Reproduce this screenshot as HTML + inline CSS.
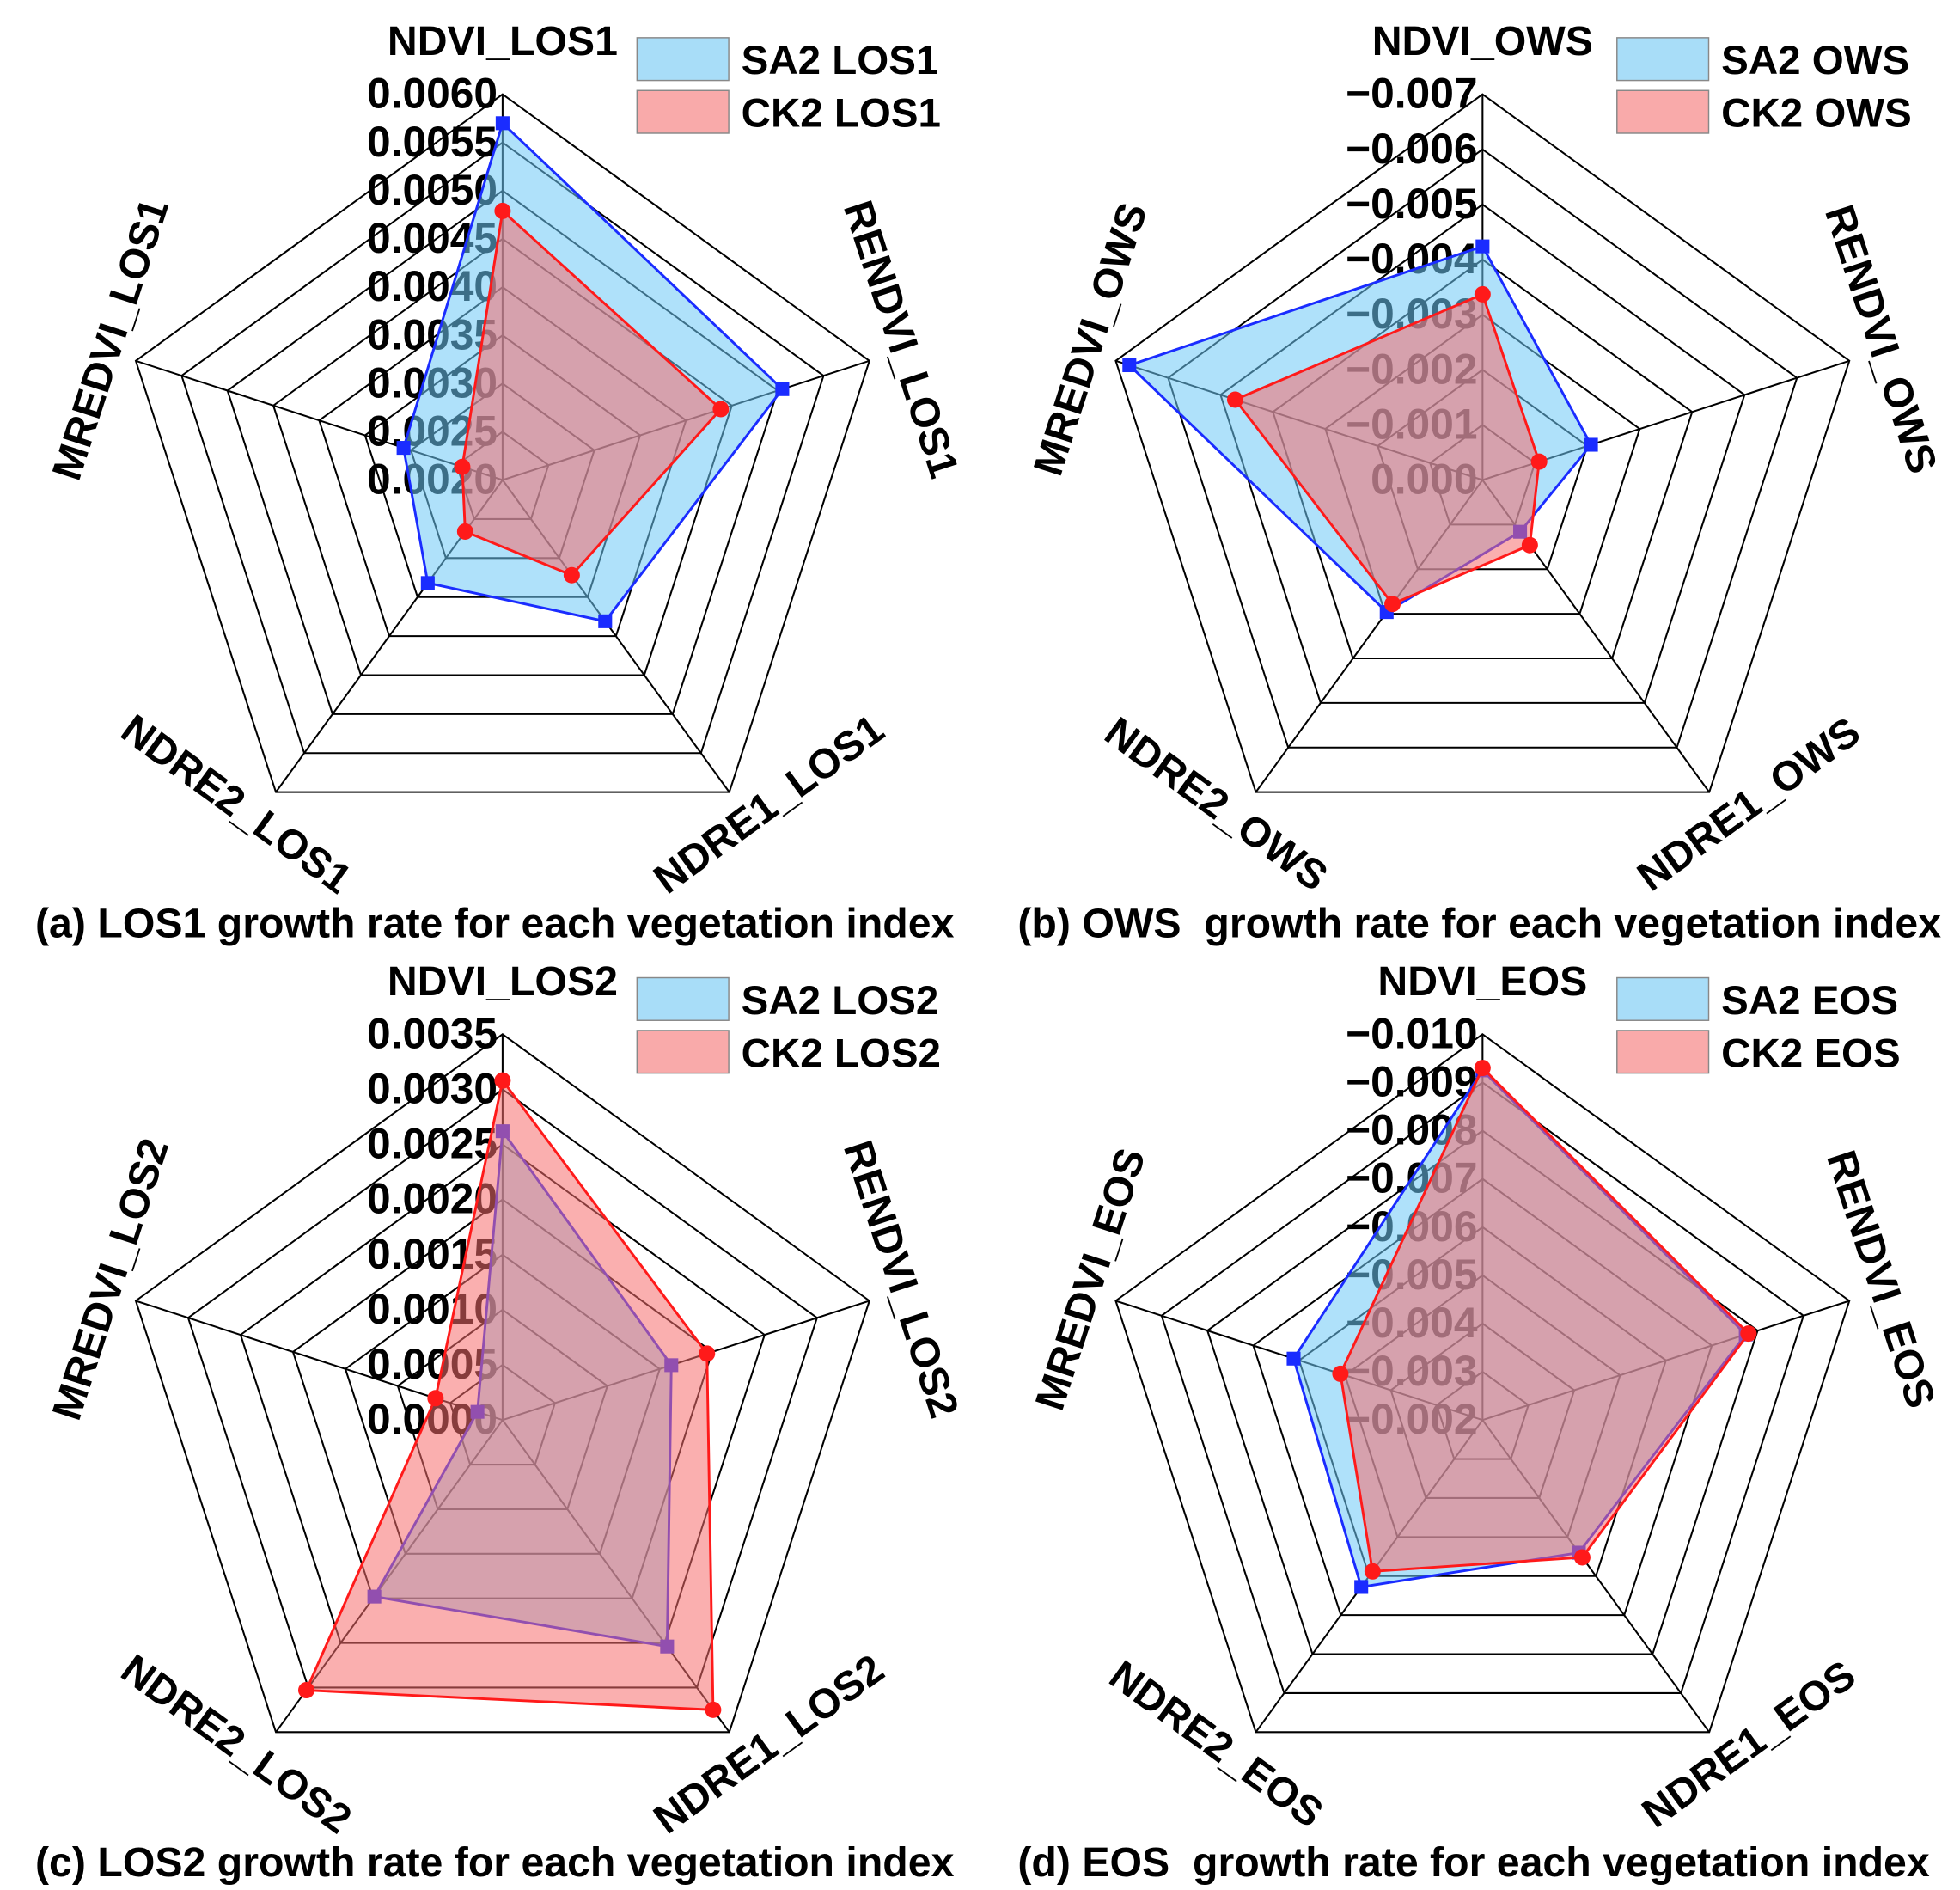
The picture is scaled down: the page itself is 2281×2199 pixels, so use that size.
<!DOCTYPE html>
<html><head><meta charset="utf-8"><style>
html,body{margin:0;padding:0;background:#fff}
svg{display:block;font-family:"Liberation Sans",Arial,sans-serif;font-weight:bold}
text{white-space:pre}
</style></head><body>
<svg id="chart" width="2281" height="2199" viewBox="0 0 1560 1504" xmlns="http://www.w3.org/2000/svg" xml:space="preserve"></svg>
<script>
const axisNames = ["NDVI","RENDVI","NDRE1","NDRE2","MREDVI"];
const suffixA = "LOS1", suffixB = "OWS", suffixC = "LOS2", suffixD = "EOS";
const ticksA = ["0.0020","0.0025","0.0030","0.0035","0.0040","0.0045","0.0050","0.0055","0.0060"];
const ticksB = ["0.000","\u22120.001","\u22120.002","\u22120.003","\u22120.004","\u22120.005","\u22120.006","\u22120.007"];
const ticksC = ["0.0000","0.0005","0.0010","0.0015","0.0020","0.0025","0.0030","0.0035"];
const ticksD = ["\u22120.002","\u22120.003","\u22120.004","\u22120.005","\u22120.006","\u22120.007","\u22120.008","\u22120.009","\u22120.010"];
const rangeA = [0.0020, 0.0060], rangeB = [0, -0.007], rangeC = [0, 0.0035], rangeD = [-0.002, -0.010];
const sa2A = [0.0057, 0.00505, 0.00381, 0.00332, 0.00308];
const ck2A = [0.00479, 0.00438, 0.00322, 0.00266, 0.00244];
const sa2B = [-0.00424, -0.00207, -0.00116, -0.00296, -0.00674];
const ck2B = [-0.00337, -0.00108, -0.00146, -0.00278, -0.00472];
const sa2C = [0.00262, 0.00161, 0.00254, 0.00198, 0.00024];
const ck2C = [0.00308, 0.00195, 0.00325, 0.00303, 0.00064];
const sa2D = [-0.00925, -0.00774, -0.0054, -0.00628, -0.00612];
const ck2D = [-0.0093, -0.0078, -0.00552, -0.00588, -0.0051];
const captionA = "(a) LOS1 growth rate for each vegetation index";
const captionB = "(b) OWS  growth rate for each vegetation index";
const captionC = "(c) LOS2 growth rate for each vegetation index";
const captionD = "(d) EOS  growth rate for each vegetation index";

const NS = "http://www.w3.org/2000/svg";
const svg = document.getElementById("chart");
const R = 307;
function mk(tag, attrs, parent){const e=document.createElementNS(NS,tag);for(const k in attrs)e.setAttribute(k,attrs[k]);(parent||svg).appendChild(e);return e;}
function ang(i){return -Math.PI/2 + i*2*Math.PI/5;}
function pt(cx,cy,r,i){return [cx+r*Math.cos(ang(i)), cy+r*Math.sin(ang(i))];}

function panel(key, cx, cy, ticks, range, sa2, ck2, suffix, caption, capX, capY){
  const g = mk("g",{});
  
  
  const n = ticks.length-1;
  const scale = v => (v-range[0])/(range[1]-range[0])*R;
  for(let k=1;k<=n;k++){
    const r=R*k/n;
    const pts=[0,1,2,3,4].map(i=>pt(cx,cy,r,i).join(",")).join(" ");
    const ring=mk("polygon",{points:pts,fill:"none",stroke:"#000","stroke-width":1.4},g);
    
    
  }
  for(let i=0;i<5;i++){
    const p=pt(cx,cy,R,i);
    const sp=mk("line",{x1:cx,y1:cy,x2:p[0],y2:p[1],stroke:"#000","stroke-width":1.4},g);
    
    
  }
  for(let k=0;k<=n;k++){
    const t=mk("text",{x:cx-4,y:cy-R*k/n+11,"text-anchor":"end","font-size":34,fill:"#000"},g);
    t.textContent=ticks[k];
    
    
  }
  function series(vals, fill, stroke, marker, name){
    const pts=vals.map((v,i)=>pt(cx,cy,scale(v),i));
    const poly=mk("polygon",{points:pts.map(p=>p.join(",")).join(" "),fill:fill,stroke:stroke,"stroke-width":2},g);
    
    
    pts.forEach(p=>{
      let m;
      if(marker==="sq") m=mk("rect",{x:p[0]-5.5,y:p[1]-5.5,width:11,height:11,fill:stroke},g);
      else m=mk("circle",{cx:p[0],cy:p[1],r:6.5,fill:stroke},g);
      
      
    });
  }
  series(sa2,"rgba(110,200,245,0.55)","#1a2cff","sq","sa2-series");
  series(ck2,"rgba(245,110,110,0.55)","#ff1a1a","ci","ck2-series");
  const lab=[[0,-349,0],[317,-112,72],[212,258,-36],[-212,258,36],[-312,-112,-72]];
  for(let i=0;i<5;i++){
    const [dx,dy,rot]=lab[i];
    const t=mk("text",{x:0,y:0,"text-anchor":"middle","dominant-baseline":"central","font-size":33,fill:"#000",transform:`translate(${cx+dx},${cy+dy}) rotate(${rot})`},g);
    t.textContent=axisNames[i]+"_"+suffix;
    
    
  }
  const lx=cx+107, ly=cy-352;
  [["SA2","#a8ddf8"],["CK2","#f9aaaa"]].forEach((e,j)=>{
    const b=mk("rect",{x:lx,y:ly+j*42,width:73,height:34,fill:e[1],stroke:"#888","stroke-width":1},g);
    
    
    const t=mk("text",{x:lx+83,y:ly+j*42+29,"font-size":32.5,fill:"#000"},g);
    t.textContent=e[0]+" "+suffix;
    
    
  });
  const c=mk("text",{x:capX,y:capY,"font-size":33,fill:"#000"},g);
  c.textContent=caption;
  
  
}
panel("a",400,382,ticksA,rangeA,sa2A,ck2A,suffixA,captionA,28,746);
panel("b",1180,382,ticksB,rangeB,sa2B,ck2B,suffixB,captionB,810,746);
panel("c",400,1130,ticksC,rangeC,sa2C,ck2C,suffixC,captionC,28,1493);
panel("d",1180,1130,ticksD,rangeD,sa2D,ck2D,suffixD,captionD,810,1493);
</script>
</body></html>
